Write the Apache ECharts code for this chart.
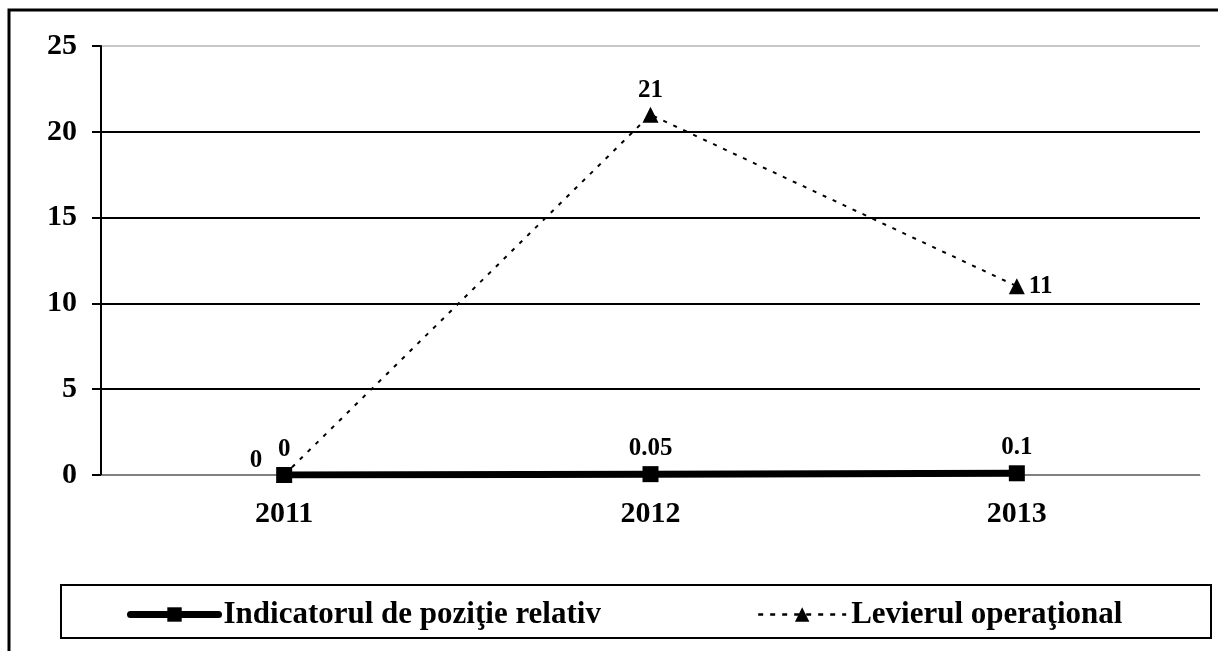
<!DOCTYPE html>
<html lang="ro">
<head>
    <meta charset="UTF-8">
    <title>Indicatorul de poziţie relativ / Levierul operaţional</title>
    <script src="https://cdn.jsdelivr.net/npm/echarts@6/dist/echarts.min.js"></script>
    <style>
        html, body { margin: 0; padding: 0; background: #fff; }
    </style>
</head>
<body>
<div id="main" style="width: 1218px;height:651px;"></div>
<script type="text/javascript">
    // date
    var years = ['2011', '2012', '2013'];
    var indicatorPozitie = [0, 0.05, 0.1];
    var levierOperational = [0, 21, 11];
    var yTicks = [0, 5, 10, 15, 20, 25];
    var seriesNames = ['Indicatorul de poziţie relativ', 'Levierul operaţional'];

    var serif = '"Liberation Serif", "Times New Roman", serif';

    // pozitia etichetelor pentru levier (stanga, sus, dreapta)
    var levierLabelPos = ['left', 'top', 'right'];
    var levierData = levierOperational.map(function (v, i) {
        var item = {value: v, label: {position: levierLabelPos[i]}};
        if (i === 0) {
            item.label.offset = [-10, -14];
        }
        return item;
    });

    var labelFont = {
        fontFamily: serif,
        fontWeight: 'bold',
        fontSize: 25,
        color: '#000'
    };

    var option = {
        animation: false,
        backgroundColor: '#fff',
        grid: {
            left: 101,
            top: 46,
            right: 18,
            bottom: 176,
            containLabel: false
        },
        legend: {
            left: 122,
            top: 594,
            itemWidth: 88,
            itemHeight: 18,
            itemGap: 156,
            textStyle: {
                fontFamily: serif,
                fontWeight: 'bold',
                fontSize: 31,
                color: '#000'
            },
            data: [
                {name: seriesNames[0], lineStyle: {width: 7, cap: 'round'}},
                {name: seriesNames[1], lineStyle: {width: 2.5, type: [5, 7]}}
            ]
        },
        graphic: [
            {
                type: 'rect',
                shape: {x: 9, y: 10, width: 1260, height: 700},
                style: {fill: null, stroke: '#000', lineWidth: 3},
                silent: true
            },
            {
                type: 'rect',
                shape: {x: 61, y: 585, width: 1150, height: 53},
                style: {fill: null, stroke: '#000', lineWidth: 2},
                silent: true,
                z: -1
            }
        ],
        xAxis: {
            type: 'category',
            data: years,
            boundaryGap: true,
            axisLine: {lineStyle: {color: '#808080', width: 1}},
            axisTick: {lineStyle: {color: '#808080', width: 1}, length: 9},
            axisLabel: {
                margin: 24,
                fontFamily: serif,
                fontWeight: 'bold',
                fontSize: 30,
                color: '#000'
            },
            splitLine: {show: false}
        },
        yAxis: {
            type: 'value',
            min: yTicks[0],
            max: yTicks[yTicks.length - 1],
            interval: yTicks[1] - yTicks[0],
            axisLine: {show: true, lineStyle: {color: '#000', width: 2}},
            axisTick: {show: true, length: 9, lineStyle: {color: '#000', width: 2}},
            axisLabel: {
                margin: 24,
                fontFamily: serif,
                fontWeight: 'bold',
                fontSize: 30,
                color: '#000'
            },
            splitLine: {
                show: true,
                lineStyle: {
                    color: ['#808080', '#000', '#000', '#000', '#000', '#c8c8c8'],
                    width: 2
                }
            }
        },
        series: [
            {
                name: seriesNames[0],
                type: 'line',
                data: indicatorPozitie,
                symbol: 'rect',
                symbolSize: 16,
                color: '#000',
                lineStyle: {color: '#000', width: 7},
                itemStyle: {color: '#000'},
                z: 3,
                label: Object.assign({show: true, position: 'top', distance: 5}, labelFont)
            },
            {
                name: seriesNames[1],
                type: 'line',
                data: levierData,
                symbol: 'triangle',
                symbolSize: 16,
                color: '#000',
                lineStyle: {color: '#000', width: 2, type: [4, 7]},
                itemStyle: {color: '#000'},
                z: 2,
                label: Object.assign({show: true, distance: 4}, labelFont)
            }
        ]
    };

    var myChart = echarts.init(document.getElementById('main'));
    myChart.setOption(option);
</script>
</body>
</html>
